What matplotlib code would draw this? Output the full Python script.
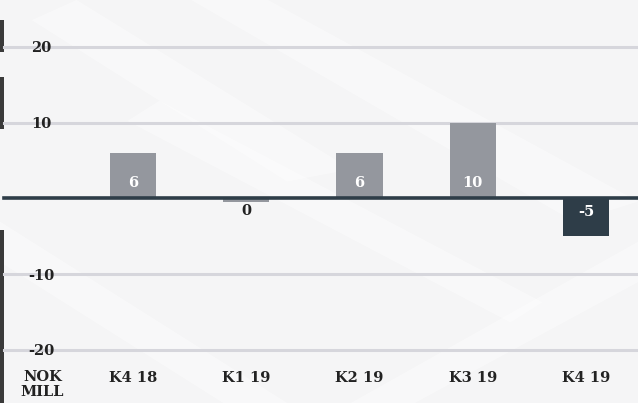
"""
Quarterly result bars, NOK mill.
"""
import matplotlib.pyplot as plt
from matplotlib.patches import Polygon

categories = ['K4 18', 'K1 19', 'K2 19', 'K3 19', 'K4 19']
values = [6, -0.4, 6, 10, -5]
gridlines = [20, 10, -10, -20]
unit_label = 'NOK\nMILL'

gray = '#94979e'
dark = '#2e3d48'
grid_col = '#d6d6dc'
font = ['DejaVu Serif']
fs = 10.5

fig = plt.figure(figsize=(6.38, 4.03), dpi=100, facecolor='#f5f5f6')
ax = fig.add_axes([0, 0, 1, 1])
ax.set_facecolor('none')
ax.set_zorder(2)

# faint architectural streaks behind the chart
streaks = [
    [(0.05, 0.95), (0.45, 0.55), (0.55, 0.58), (0.12, 1.0)],
    [(0.3, 1.0), (0.9, 0.45), (1.0, 0.5), (0.42, 1.0)],
    [(0.0, 0.35), (0.35, 0.0), (0.45, 0.0), (0.0, 0.45)],
    [(0.55, 0.0), (1.0, 0.4), (1.0, 0.3), (0.65, 0.0)],
    [(0.2, 0.7), (0.8, 0.2), (0.85, 0.25), (0.25, 0.75)],
]
for pts in streaks:
    fig.patches.append(Polygon(pts, closed=True, transform=fig.transFigure,
                               facecolor='white', alpha=0.4, zorder=0))
# dark shapes showing at the left edge
for y0, y1 in [(0.87, 0.95), (0.68, 0.81), (0.0, 0.43)]:
    fig.patches.append(Polygon([(0, y0), (0.007, y0), (0.007, y1), (0, y1)],
                               closed=True, transform=fig.transFigure,
                               facecolor='#3a3a3a', zorder=0))

x = list(range(len(categories)))
ax.set_xlim(-1.174, 4.459)
ax.set_ylim(-27.0, 26.2)
ax.axis('off')

x_start = 4 / 638
for g in gridlines:
    ax.axhline(g, xmin=x_start, xmax=1, color=grid_col, lw=2.2, zorder=1)
    ax.text(-0.808, g - 0.2, f'{g}', ha='center', va='center',
            fontsize=fs, fontweight='bold', color='#222222',
            family=font, zorder=3)

colors = [dark if v <= -1 else gray for v in values]
ax.bar(x, values, width=0.41, color=colors, zorder=2)
ax.axhline(0, xmin=x_start, xmax=1, color=dark, lw=2.6, zorder=3)

for xi, v in zip(x, values):
    label = f'{abs(round(v)) if round(v) == 0 else round(v)}'
    if v >= 1:
        ax.text(xi, 2.0, label, ha='center', va='center', color='white',
                fontsize=fs, fontweight='bold', family=font, zorder=4)
    elif v <= -1:
        ax.text(xi, -1.8, label, ha='center', va='center', color='white',
                fontsize=fs, fontweight='bold', family=font, zorder=4)
    else:
        ax.text(xi, -1.6, label, ha='center', va='center', color='#222222',
                fontsize=fs, fontweight='bold', family=font, zorder=4)

for xi, c in zip(x, categories):
    ax.text(xi, -23.7, c, ha='center', va='center', color='#222222',
            fontsize=fs, fontweight='bold', family=font)
ax.text(-0.8, -22.6, unit_label, ha='center', va='top', color='#222222',
        fontsize=fs, fontweight='bold', family=font, linespacing=1.1)

fig.savefig('out.png', dpi=100, facecolor=fig.get_facecolor())
